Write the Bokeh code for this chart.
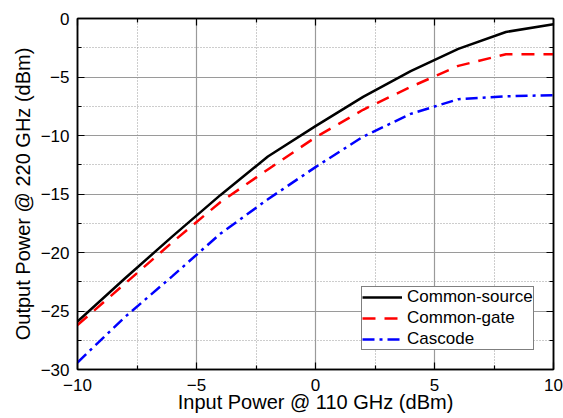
from bokeh.plotting import figure
from bokeh.models import Range1d, LinearAxis, FixedTicker, Legend, LegendItem
from bokeh.embed import file_html
from bokeh.resources import INLINE

# ---- data ----
x_in = [-10, -8, -6, -4, -2, 0, 2, 4, 6, 8, 10]
common_source = [-25.9, -22.2, -18.6, -15.1, -11.8, -9.2, -6.7, -4.5, -2.6, -1.15, -0.5]
common_gate = [-26.2, -22.65, -19.1, -15.7, -12.9, -10.15, -7.8, -5.85, -4.05, -3.05, -3.05]
cascode = [-29.4, -25.5, -22.0, -18.4, -15.45, -12.7, -10.1, -8.15, -6.9, -6.65, -6.55]

x_major = [-10, -5, 0, 5, 10]
x_minor = [-7.5, -2.5, 2.5, 7.5]
y_major = [-30, -25, -20, -15, -10, -5, 0]
y_minor = [-27.5, -22.5, -17.5, -12.5, -7.5, -2.5]

FONT = "Liberation Sans"

p = figure(width=563, height=418, output_backend="svg", toolbar_location=None,
           x_range=Range1d(-10, 10), y_range=Range1d(-30, 0),
           min_border_left=77, min_border_right=10, min_border_top=18, min_border_bottom=49)

xt = FixedTicker(ticks=x_major, minor_ticks=x_minor)
yt = FixedTicker(ticks=y_major, minor_ticks=y_minor)

p.xaxis.ticker = xt
p.yaxis.ticker = yt
p.xaxis.axis_label = "Input Power @ 110 GHz (dBm)"
p.yaxis.axis_label = "Output Power @ 220 GHz (dBm)"


def style_ticks(ax):
    ax.axis_line_color = "black"
    ax.axis_line_width = 1.5
    ax.major_tick_in = 7
    ax.major_tick_out = 0
    ax.minor_tick_in = 4
    ax.minor_tick_out = 0
    ax.major_tick_line_color = "black"
    ax.minor_tick_line_color = "black"
    ax.major_tick_line_width = 1.2
    ax.minor_tick_line_width = 1.2


for ax in p.xaxis + p.yaxis:
    ax.axis_label_text_font = FONT
    ax.axis_label_text_font_size = "20px"
    ax.axis_label_text_font_style = "normal"
    ax.axis_label_text_color = "black"
    ax.major_label_text_font = FONT
    ax.major_label_text_font_size = "17px"
    ax.major_label_text_color = "black"
    style_ticks(ax)

p.xaxis.major_label_standoff = 9
p.xaxis.axis_label_standoff = -3
p.yaxis.major_label_standoff = 8
p.yaxis.axis_label_standoff = 4

# mirror axes (top / right) with inward ticks, no labels
for loc, tk, ticks in (("right", yt, y_major), ("above", xt, x_major)):
    ax = LinearAxis(ticker=tk)
    ax.major_label_overrides = {t: "" for t in ticks}
    ax.major_label_standoff = 0
    style_ticks(ax)
    p.add_layout(ax, loc)

for g in (p.xgrid[0], p.ygrid[0]):
    g.grid_line_color = "#9a9a9a"
    g.grid_line_width = 1.2
    g.minor_grid_line_color = "#9a9a9a"
    g.minor_grid_line_dash = "1 2"
    g.minor_grid_line_width = 1

p.outline_line_color = "black"
p.outline_line_width = 1.5

r1 = p.line(x_in, common_source, line_color="black", line_width=2.5)
r2 = p.line(x_in, common_gate, line_color="#ff0000", line_width=2.5, line_dash="13 9")
r3 = p.line(x_in, cascode, line_color="#0000ff", line_width=2.5, line_dash="12 5 3 5")

legend = Legend(items=[LegendItem(label="Common-source", renderers=[r1]),
                       LegendItem(label="Common-gate", renderers=[r2]),
                       LegendItem(label="Cascode", renderers=[r3])],
                location=(284, 19))
legend.label_text_font = FONT
legend.label_text_font_size = "17px"
legend.label_text_color = "black"
legend.glyph_width = 40
legend.glyph_height = 20
legend.label_height = 20
legend.label_standoff = 5
legend.spacing = 1
legend.padding = 0
legend.margin = 0
legend.border_line_color = "black"
legend.border_line_width = 1.2
legend.background_fill_alpha = 1
p.add_layout(legend)

open("out.html", "w").write(file_html(p, INLINE))
